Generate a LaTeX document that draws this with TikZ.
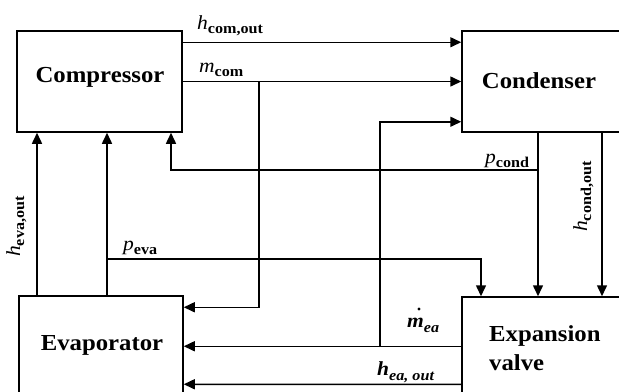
\documentclass[tikz,border=0pt]{standalone}
\usepackage{fontspec}
\setmainfont{Liberation Serif}[FakeStretch=1.08]
\usetikzlibrary{arrows.meta}
\tikzset{
  box/.style={draw, line width=1.5bp, rectangle, inner sep=0pt},
  lbl/.style={font=\bfseries\fontsize{23}{29}\selectfont, inner sep=0pt},
  var/.style={inner sep=0pt, anchor=base west},
  arr/.style={line width=1.5bp, -{Triangle[length=11bp,width=10bp]}},
}
\newcommand\vr[2]{{\fontsize{20}{20}\selectfont\itshape #1}\raisebox{-4bp}{\fontsize{15}{16}\selectfont\bfseries #2}}
\newcommand\vrb[2]{{\fontsize{20}{20}\selectfont\bfseries\itshape #1}\raisebox{-5bp}{\fontsize{15}{16}\selectfont\bfseries\itshape #2}}
\begin{document}
\begin{tikzpicture}[x=1bp,y=-1bp]
\useasboundingbox (0,0) rectangle (619,391);
\clip (0,0) rectangle (619,391);
% boxes
\node[box, minimum width=165bp, minimum height=101bp] (comp) at (99.5,81.5) {};
\node[box, minimum width=178bp, minimum height=101bp] (cond) at (551,81.5) {};
\node[box, minimum width=164bp, minimum height=124bp] (evap) at (101,358) {};
\node[box, minimum width=178bp, minimum height=124bp] (expv) at (551,359) {};
% box labels
\node[lbl] (tcomp) at (100,77) {Compressor};
\node[lbl] (tcond) at (539,81) {Condenser};
\node[lbl] (tevap) at (102,345) {Evaporator};
\node[lbl, anchor=west, align=left] (texpv) at (489,348) {Expansion\\valve};
% helper coordinates
\coordinate (xa) at (37,0);
\coordinate (xb) at (107,0);
\coordinate (xc) at (171,0);
\coordinate (xf) at (481,0);
\coordinate (xg) at (538,0);
\coordinate (xh) at (602,0);
\coordinate (jm) at (259,81.5);
\coordinate (jp) at (538,170);
\coordinate (je) at (107,259);
\coordinate (jx) at (380,347);
% connectors
\draw[arr] ([yshift=-12bp]comp.north east) -- ([yshift=-12bp]cond.north west);
\draw[arr] (comp.east) -- (cond.west);
\draw[arr] (jm) |- ([yshift=-12bp]evap.north east);
\draw[arr] (cond.south -| xg) -- (expv.north -| xg);
\draw[arr] (jp) -| (comp.south -| xc);
\draw[arr] (cond.south -| xh) -- (expv.north -| xh);
\draw[arr] (evap.north -| xa) -- (comp.south -| xa);
\draw[arr] (evap.north -| xb) -- (comp.south -| xb);
\draw[arr] (je) -| (expv.north -| xf);
\draw[arr] ([yshift=-50bp]expv.north west) -- ([yshift=-51bp]evap.north east);
\draw[arr] (jx) |- ([yshift=11bp]cond.south west);
\draw[arr] ([yshift=-88bp]expv.north west) -- ([yshift=-89bp]evap.north east);
% variable labels
\node[var] (lhco) at (197,29) {\vr{h}{com,out}};
\node[var] (lmco) at (199,72) {\vr{m}{com}};
\node[var] (lpcd) at (485,163) {\vr{p}{cond}};
\node[var] (lpev) at (123,250) {\vr{p}{eva}};
\node[var, rotate=90] (lhcd) at (587,232) {\vr{h}{cond,out}};
\node[var, rotate=90] (lhev) at (20,257) {\vr{h}{eva,out}};
\node[var] (lmea) at (407,327) {{\fontsize{20}{20}\selectfont\bfseries\itshape m}\raisebox{-5bp}{\fontsize{15}{16}\selectfont\bfseries\itshape ea}};
\fill ([xshift=12bp,yshift=18bp]lmea.base west) circle (1.7bp);
\node[var] (lhea) at (377,375) {\vrb{h}{ea, out}};
\end{tikzpicture}
\end{document}
